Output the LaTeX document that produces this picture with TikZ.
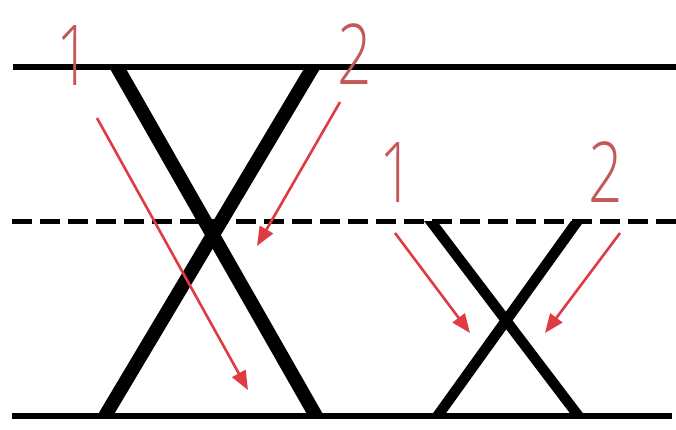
\documentclass[tikz,border=0pt]{standalone}
\usepackage{fontspec}
\setmainfont{Open Sans}[UprightFont=* Light]
\usetikzlibrary{arrows.meta}
\definecolor{labred}{RGB}{196,88,88}
\definecolor{arrred}{RGB}{222,60,66}
\tikzset{
  guide/.style={line width=6pt, black},
  guidedash/.style={line width=5pt, black, dash pattern=on 20pt off 8pt},
  stroke/.style={fill=black},
  redarrow/.style={draw=arrred, line width=2.6pt, -{Triangle[length=19pt,width=15pt]}},
  digit/.style={text=labred, inner sep=0pt, anchor=base, font=\fontsize{84}{84}\selectfont}
}
\newcommand{\narrowdigit}[1]{\scalebox{0.72}[1]{#1}}
\begin{document}
\begin{tikzpicture}[x=1pt,y=-1pt]
\useasboundingbox (0,0) rectangle (676,430);
% guide lines
\coordinate (tl) at (13,67);  \coordinate (tr) at (676,67);
\coordinate (ml) at (12,221); \coordinate (mr) at (676,221);
\coordinate (bl) at (12,416); \coordinate (br) at (672,416);
\draw[guide] (tl) -- (tr);
\draw[guidedash] (ml) -- (mr);
\draw[guide] (bl) -- (br);
% big X
\fill[stroke] (109,67) -- (125,67) -- (324,416) -- (308,416) -- cycle;
\fill[stroke] (305,67) -- (321,67) -- (113,416) -- (97,416) -- cycle;
% small x
\fill[stroke] (424,221) -- (437,221) -- (585,416) -- (572,416) -- cycle;
\fill[stroke] (571,221) -- (584,221) -- (444,416) -- (431,416) -- cycle;
% labels
\node[digit] (b1) at (74,86) {\narrowdigit{1}};
\node[digit] (b2) at (355,85) {\narrowdigit{2}};
\node[digit] (s1) at (397,202) {\narrowdigit{1}};
\node[digit] (s2) at (606,203) {\narrowdigit{2}};
% arrows
\coordinate (a1s) at (97,118);  \coordinate (a1e) at (248,390);
\coordinate (a2s) at (340,102); \coordinate (a2e) at (257,246);
\coordinate (a3s) at (395,233); \coordinate (a3e) at (470,333);
\coordinate (a4s) at (620,233); \coordinate (a4e) at (545,333);
\draw[redarrow] (a1s) -- (a1e);
\draw[redarrow] (a2s) -- (a2e);
\draw[redarrow] (a3s) -- (a3e);
\draw[redarrow] (a4s) -- (a4e);
\end{tikzpicture}
\end{document}
